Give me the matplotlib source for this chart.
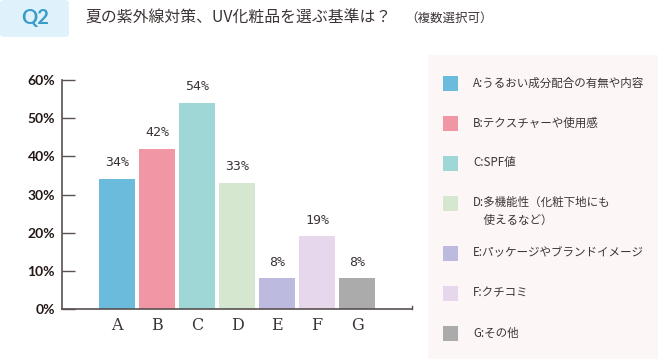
import matplotlib
matplotlib.use("Agg")
import matplotlib.pyplot as plt
from matplotlib.patches import Rectangle, FancyBboxPatch

plt.rcParams['font.family'] = ['Noto Sans CJK JP', 'DejaVu Sans']

categories = ['A', 'B', 'C', 'D', 'E', 'F', 'G']
values = [34, 42, 54, 33, 8, 19, 8]
bar_colors = ['#6bbbdc', '#f096a4', '#9ed7d6', '#d5e8cf', '#bcbade', '#e7d7ec', '#ababab']
legend_labels = [
    'A:うるおい成分配合の有無や内容',
    'B:テクスチャーや使用感',
    'C:SPF値',
    'D:多機能性（化粧下地にも\n    使えるなど）',
    'E:パッケージやブランドイメージ',
    'F:クチコミ',
    'G:その他',
]
yticks = [0, 10, 20, 30, 40, 50, 60]

W, H = 658, 360
fig = plt.figure(figsize=(W / 100, H / 100), dpi=100)
fig.patch.set_facecolor('white')

def fx(px):
    return px / W

def fy(py):
    return 1 - py / H

# title block
fig.patches.append(FancyBboxPatch((fx(0), fy(37)), fx(69), 37 / H,
                                  boxstyle='round,pad=0,rounding_size=0.008',
                                  transform=fig.transFigure, facecolor='#dff2fb',
                                  edgecolor='none'))
fig.text(fx(35), fy(18), 'Q2', color='#3a9cc9', fontsize=14.5, fontweight='bold',
         ha='center', va='center', family=['Lato', 'DejaVu Sans'])
fig.text(fx(85), fy(18), '夏の紫外線対策、UV化粧品を選ぶ基準は？', color='#3d3535',
         fontsize=11.4, ha='left', va='center')
fig.text(fx(405), fy(18), '（複数選択可）', color='#3d3535', fontsize=9,
         ha='left', va='center')

# bar chart
ax = fig.add_axes([fx(62), fy(309), fx(412 - 62), (309 - 80) / H])
x = list(range(len(categories)))
ax.bar(x, values, width=0.9, color=bar_colors)
for xi, v in zip(x, values):
    ax.text(xi, v + 2.6, f'{v}%', ha='center', va='bottom', fontsize=9.5,
            color='#3d3535', family=['DejaVu Sans Mono'])
ax.set_xlim(-1.375, 7.375)
ax.set_ylim(0, 60)
ax.set_yticks(yticks)
ax.set_yticklabels([f'{t}%' for t in yticks], fontsize=10, fontweight='bold',
                   color='#231815', family=['Lato', 'DejaVu Sans'])
ax.set_xticks(x)
ax.set_xticklabels(categories, fontsize=11.5, color='#3d3535',
                   family=['DejaVu Serif'])
ax.tick_params(axis='y', direction='in', length=9, width=1, color='#595050', pad=5)
ax.tick_params(axis='x', length=0, pad=6)
for s in ['top', 'right']:
    ax.spines[s].set_visible(False)
for s in ['left', 'bottom']:
    ax.spines[s].set_color('#595050')
    ax.spines[s].set_linewidth(1.2)
ax.plot([7.375, 7.375], [0, 0.8], color='#595050', lw=1, clip_on=False)
ax.set_facecolor('none')

# legend panel
fig.patches.append(Rectangle((fx(428), fy(359)), fx(658 - 428), (359 - 55) / H,
                             transform=fig.transFigure, facecolor='#fdf6f6',
                             edgecolor='none'))
legend_y = [83, 123, 163, 203, 253, 293, 333]
for yy, c, lab in zip(legend_y, bar_colors, legend_labels):
    fig.patches.append(Rectangle((fx(443), fy(yy + 7.5)), fx(15), 15 / H,
                                 transform=fig.transFigure, facecolor=c,
                                 edgecolor='none'))
    fig.text(fx(473), fy(yy - 7) if '\n' in lab else fy(yy), lab, fontsize=8.3,
             color='#3d3535', ha='left', va='top' if '\n' in lab else 'center',
             linespacing=1.5)

fig.savefig('out.png', dpi=100)
